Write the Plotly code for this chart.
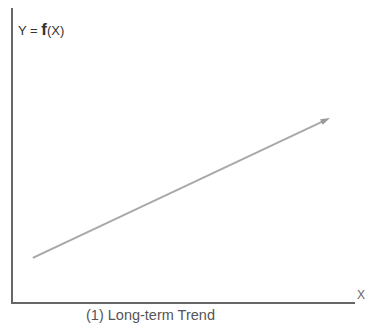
import plotly.graph_objects as go

trend_x = [0.058, 0.927]
trend_y = [0.15, 0.626]
y_label = "Y = <b style='font-size:17px'>f</b>(X)"
x_label = "X"
caption = "(1) Long-term Trend"

fig = go.Figure()
fig.add_trace(go.Scatter(
    x=trend_x, y=trend_y, mode="lines+markers",
    line=dict(color="#a8a8a8", width=2),
    marker=dict(symbol=["circle", "arrow"], size=[0, 10], angleref="previous",
                color="#707070", line=dict(width=0)),
    hoverinfo="skip", showlegend=False,
))

fig.update_layout(
    width=366, height=323,
    margin=dict(l=13, r=11, t=8, b=21),
    paper_bgcolor="white", plot_bgcolor="white",
    font=dict(family="Liberation Sans, Arial, sans-serif", color="#333333"),
    xaxis=dict(range=[0, 1], showgrid=False, zeroline=False, showticklabels=False,
               showline=True, linecolor="#666666", linewidth=2, ticks="", fixedrange=True),
    yaxis=dict(range=[0, 1], showgrid=False, zeroline=False, showticklabels=False,
               showline=True, linecolor="#666666", linewidth=2, ticks="", fixedrange=True),
    annotations=[
        dict(text=y_label, xref="paper", yref="paper", x=0.008, y=0.928,
             xanchor="left", yanchor="middle", showarrow=False,
             font=dict(size=13, color="#333333")),
        dict(text=x_label, xref="paper", yref="paper", x=1.0, y=0.025,
             xanchor="left", yanchor="middle", showarrow=False,
             font=dict(size=12, color="#666666")),
        dict(text=caption, xref="paper", yref="paper", x=0.403, y=-0.044,
             xanchor="center", yanchor="middle", showarrow=False,
             font=dict(size=14.5, color="#555555")),
    ],
)

fig.write_html("out.html", config={"displayModeBar": False, "staticPlot": True},
               post_script="document.body.style.margin='0';document.body.style.overflow='hidden';")
